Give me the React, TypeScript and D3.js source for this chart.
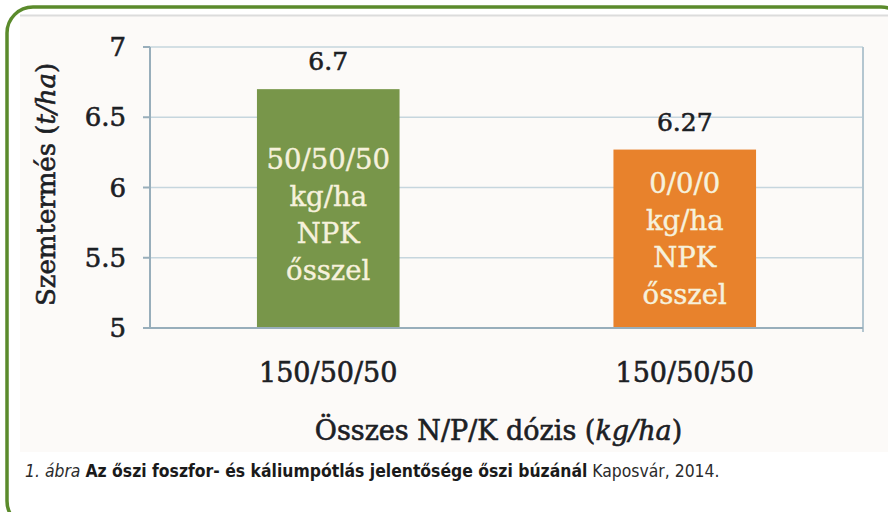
import * as d3 from 'd3'
import React, { useRef, useEffect } from 'react'

// Chart data
const categories = ['150/50/50', '150/50/50']
const yields = [6.7, 6.27]
const valueLabels = ['6.7', '6.27']
const barNotes = [
  ['50/50/50', 'kg/ha', 'NPK', 'ősszel'],
  ['0/0/0', 'kg/ha', 'NPK', 'ősszel'],
]
const noteCenters = [5.8, 5.63] // where the note block sits, in t/ha
const barColors = ['#78964a', '#e8822c']
const yTicks = [5, 5.5, 6, 6.5, 7]

const SERIF = "'DejaVu Serif', 'Liberation Serif', serif"
const NARROW = "'Liberation Sans Narrow', 'DejaVu Sans Condensed', 'Roboto Condensed', sans-serif"
const INK = '#1c2024'

const App = () => {
  const ref = useRef<SVGSVGElement | null>(null)

  useEffect(() => {
    const svg = d3.select(ref.current)
    svg.selectAll('*').remove()

    const plot = { left: 150, right: 863, top: 47, bottom: 328 }
    const y = d3.scaleLinear().domain([5, 7]).range([plot.bottom, plot.top])
    const x = d3.scaleBand<number>()
      .domain(d3.range(categories.length))
      .range([plot.left, plot.right])
      .paddingInner(0.6)
      .paddingOuter(0.3)

    // serif text with a little extra weight, like the scanned original
    const serif = (sel: any, size: number, color = INK) => sel
      .style('font-family', SERIF)
      .style('font-size', `${size}px`)
      .attr('fill', color)
      .attr('stroke', color)
      .attr('stroke-width', 0.6)

    // frame
    svg.append('rect')
      .attr('x', 20).attr('y', 15).attr('width', 870).attr('height', 437)
      .attr('fill', '#fcfaf8')
    svg.append('line')
      .attr('x1', 20).attr('x2', 888).attr('y1', 15.5).attr('y2', 15.5)
      .attr('stroke', '#dcdcdc').attr('stroke-width', 2)
    svg.append('rect')
      .attr('x', 7).attr('y', 7).attr('width', 900).attr('height', 520)
      .attr('rx', 26)
      .attr('fill', 'none').attr('stroke', '#5b8b2c').attr('stroke-width', 3.5)

    // gridlines
    svg.selectAll('.grid')
      .data(yTicks.filter(t => t > 5))
      .enter().append('line')
      .attr('x1', plot.left).attr('x2', plot.right)
      .attr('y1', d => y(d)).attr('y2', d => y(d))
      .attr('stroke', '#c6d6de').attr('stroke-width', 1.5)

    // plot frame
    svg.append('line')
      .attr('x1', plot.right).attr('x2', plot.right)
      .attr('y1', plot.top).attr('y2', plot.bottom + 4)
      .attr('stroke', '#b4c6d0').attr('stroke-width', 2)

    // bars
    svg.selectAll('.bar')
      .data(yields)
      .enter().append('rect')
      .attr('x', (d, i) => x(i)!)
      .attr('width', x.bandwidth())
      .attr('y', d => y(d))
      .attr('height', d => y(5) - y(d))
      .attr('fill', (d, i) => barColors[i])

    // axes
    svg.append('line')
      .attr('x1', plot.left).attr('x2', plot.left)
      .attr('y1', plot.top).attr('y2', plot.bottom)
      .attr('stroke', '#98aebb').attr('stroke-width', 2)
    svg.append('line')
      .attr('x1', plot.left - 7).attr('x2', plot.right)
      .attr('y1', plot.bottom).attr('y2', plot.bottom)
      .attr('stroke', '#98aebb').attr('stroke-width', 2)
    svg.selectAll('.tick')
      .data(yTicks)
      .enter().append('line')
      .attr('x1', plot.left - 7).attr('x2', plot.left)
      .attr('y1', d => y(d)).attr('y2', d => y(d))
      .attr('stroke', '#98aebb').attr('stroke-width', 2)

    // y tick labels
    serif(svg.selectAll('.ylab')
      .data(yTicks)
      .enter().append('text')
      .attr('x', 126)
      .attr('y', d => y(d) + 9)
      .attr('text-anchor', 'end'), 26)
      .text(d => String(d))

    // value labels
    serif(svg.selectAll('.vlab')
      .data(yields)
      .enter().append('text')
      .attr('x', (d, i) => x(i)! + x.bandwidth() / 2)
      .attr('y', d => y(d) - 19)
      .attr('text-anchor', 'middle'), 25)
      .text((d, i) => valueLabels[i])

    // notes inside bars
    barNotes.forEach((lines, i) => {
      const cx = x(i)! + x.bandwidth() / 2
      const lineH = 37
      const top = y(noteCenters[i]) - (lines.length - 1) * lineH / 2
      lines.forEach((t, j) => {
        serif(svg.append('text')
          .attr('x', cx)
          .attr('y', top + j * lineH + 9)
          .attr('text-anchor', 'middle'), 27.5, '#f6f1dc')
          .attr('stroke-width', 0.4)
          .text(t)
      })
    })

    // category labels
    serif(svg.selectAll('.xlab')
      .data(categories)
      .enter().append('text')
      .attr('x', (d, i) => x(i)! + x.bandwidth() / 2)
      .attr('y', 382)
      .attr('text-anchor', 'middle'), 27)
      .text(d => d)

    // x title
    const xt = serif(svg.append('text')
      .attr('x', (plot.left + plot.right) / 2 - 8)
      .attr('y', 440)
      .attr('text-anchor', 'middle'), 27)
    xt.append('tspan').text('Összes N/P/K dózis (')
    xt.append('tspan').style('font-style', 'italic').text('kg/ha')
    xt.append('tspan').text(')')

    // y title
    const yt = serif(svg.append('text')
      .attr('transform', `translate(55, ${(plot.top + plot.bottom) / 2 - 3}) rotate(-90)`)
      .attr('text-anchor', 'middle'), 26)
    yt.append('tspan').text('Szemtermés (')
    yt.append('tspan').style('font-style', 'italic').text('t/ha')
    yt.append('tspan').text(')')

    // caption
    const cap = svg.append('text')
      .attr('x', 25)
      .attr('y', 477)
      .style('font-family', NARROW)
      .style('font-stretch', 'condensed')
      .style('font-size', '17.4px')
      .attr('fill', '#2b2b2b')
    cap.append('tspan').style('font-style', 'italic').text('1. ábra ')
    cap.append('tspan').style('font-weight', 'bold').attr('fill', '#1a1a1a')
      .text('Az őszi foszfor- és káliumpótlás jelentősége őszi búzánál')
    cap.append('tspan').text(' Kaposvár, 2014.')
  }, [])

  return (
    <svg
      ref={ref}
      width={888}
      height={512}
      style={{ position: 'absolute', left: 0, top: 0, background: '#ffffff' }}
    />
  )
}

export default App
